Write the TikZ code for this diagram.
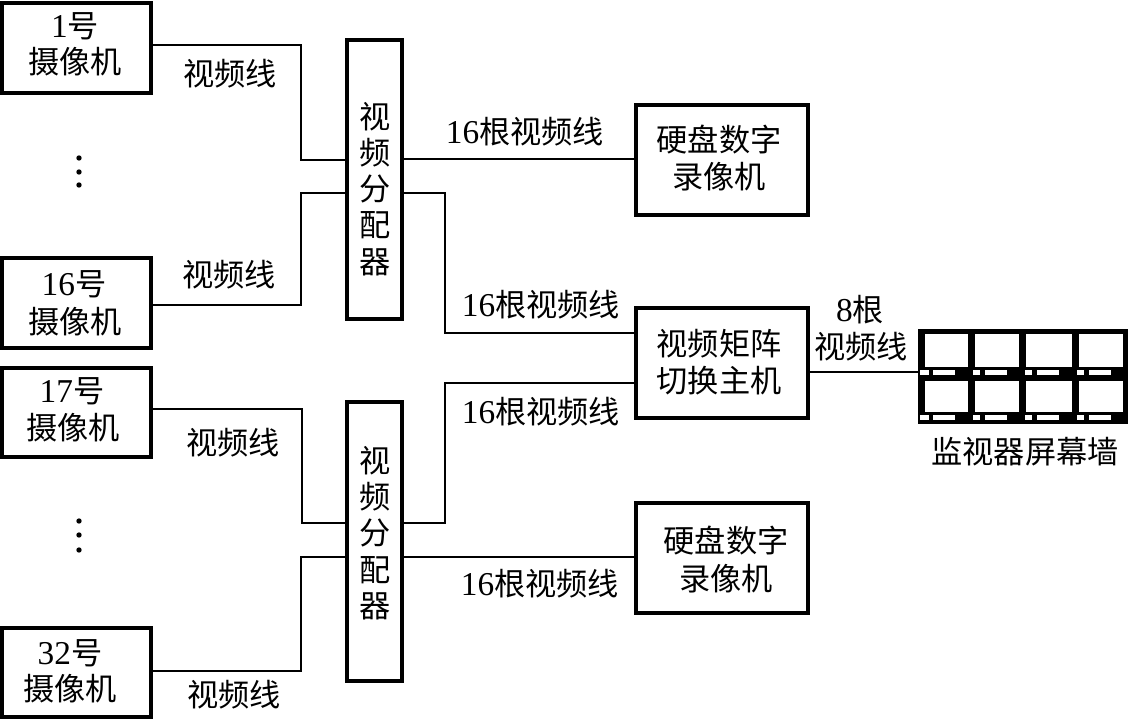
\documentclass[tikz,border=0pt]{standalone}
\usepackage{fontspec}
\setmainfont{Liberation Serif}
\newfontfamily\cjk{Noto Sans CJK SC}
\newcommand{\lat}[1]{{\rmfamily\fontsize{25}{25}\selectfont #1}}
\tikzset{
  x=0.75pt,y=-0.75pt,
  blockbox/.style={draw=black,line width=4*0.75pt,fill=white,inner sep=0pt,outer sep=0pt,anchor=north west},
  wire/.style={draw=black,line width=1.3*0.75pt},
  txt/.style={font=\cjk\fontsize{23.4}{23.4}\selectfont,inner sep=0pt,text=black},
  screen/.style={fill=white,draw=none},
  dotmark/.style={circle,fill=black,inner sep=0pt,minimum size=4pt}
}
\begin{document}
\begin{tikzpicture}
\useasboundingbox (0,0) rectangle (1128,720);
% boxes
\node[blockbox,minimum width=148.5*0.75pt,minimum height=89.5*0.75pt] (cam1) at (2,3.5) {};
\node[blockbox,minimum width=148.5*0.75pt,minimum height=89.5*0.75pt] (cam16) at (2,258.5) {};
\node[blockbox,minimum width=148.5*0.75pt,minimum height=89.5*0.75pt] (cam17) at (2,367.5) {};
\node[blockbox,minimum width=148.5*0.75pt,minimum height=89.5*0.75pt] (cam32) at (2,627.5) {};
\node[blockbox,minimum width=55*0.75pt,minimum height=279*0.75pt] (spa) at (347,40) {};
\node[blockbox,minimum width=55*0.75pt,minimum height=279*0.75pt] (spb) at (347,402) {};
\node[blockbox,minimum width=172*0.75pt,minimum height=110*0.75pt] (hdda) at (636,105) {};
\node[blockbox,minimum width=172*0.75pt,minimum height=110*0.75pt] (mat) at (636,308) {};
\node[blockbox,minimum width=172*0.75pt,minimum height=110*0.75pt] (hddb) at (636,503) {};
\node[fill=black,inner sep=0pt,outer sep=0pt,anchor=north west,minimum width=210*0.75pt,minimum height=95*0.75pt] (wall) at (918,329) {};
% connectors
\draw[wire] (cam1.east |- 0,45) -| (301,160) -- (spa.west |- 0,160);
\draw[wire] (cam16.east |- 0,305) -| (301,193) -- (spa.west |- 0,193);
\draw[wire] (cam17.east |- 0,409) -| (302,523) -- (spb.west |- 0,523);
\draw[wire] (cam32.east |- 0,671) -| (301,557) -- (spb.west |- 0,557);
\draw[wire] (spa.east |- 0,159) -- (hdda.west |- 0,159);
\draw[wire] (spa.east |- 0,193) -| (445,333) -- (mat.west |- 0,333);
\draw[wire] (spb.east |- 0,523) -| (445,383) -- (mat.west |- 0,383);
\draw[wire] (spb.east |- 0,557) -- (hddb.west |- 0,557);
\draw[wire] (mat.east |- 0,372) -- (wall.west |- 0,372);
% monitor wall
\foreach \a/\b in {925/968,975/1019,1026/1072,1079/1123}{
  \fill[screen] (\a,334) rectangle (\b,367);
  \fill[screen] (\a,381) rectangle (\b,412);
}
\foreach \a/\b/\c/\d in {920/929/933/955,973/980/985/1007,1025/1032/1037/1059,1077/1084/1089/1111}{
  \fill[screen] (\a,370) rectangle (\b,375);
  \fill[screen] (\c,370) rectangle (\d,375);
  \fill[screen] (\a,415) rectangle (\b,420);
  \fill[screen] (\c,415) rectangle (\d,420);
}
% dots
\foreach \n/\y in {a/158,b/172,c/185,d/521,e/535,f/550}{
  \node[dotmark] (dot\n) at (79,\y) {};
}
% box texts
\node[txt] (t1a) at (75,26) {\lat{1}号};
\node[txt] (t1b) at (75,62) {摄像机};
\node[txt] (t2a) at (74,284) {\lat{16}号};
\node[txt] (t2b) at (75,322) {摄像机};
\node[txt] (t3a) at (72,391) {\lat{17}号};
\node[txt] (t3b) at (73,428) {摄像机};
\node[txt] (t4a) at (70,653) {\lat{32}号};
\node[txt] (t4b) at (70,689) {摄像机};
\foreach \n/\c/\y in {a/视/117,b/频/153,c/分/189,d/配/225,e/器/262}{
  \node[txt] (sa\n) at (375,\y) {\c};
}
\foreach \n/\c/\y in {a/视/461,b/频/497,c/分/533,d/配/570,e/器/606}{
  \node[txt] (sb\n) at (375,\y) {\c};
}
\node[txt] (h1a) at (719,140) {硬盘数字};
\node[txt] (h1b) at (719,177) {录像机};
\node[txt] (m1a) at (719,344) {视频矩阵};
\node[txt] (m1b) at (719,381) {切换主机};
\node[txt] (h2a) at (726,541) {硬盘数字};
\node[txt] (h2b) at (726,579) {录像机};
% labels
\node[txt] (l1) at (230,74) {视频线};
\node[txt] (l2) at (229,275) {视频线};
\node[txt] (l3) at (233,443) {视频线};
\node[txt] (l4) at (234,695) {视频线};
\node[txt] (l5) at (525,132) {\lat{16}根视频线};
\node[txt] (l6) at (541,305) {\lat{16}根视频线};
\node[txt] (l7) at (541,412) {\lat{16}根视频线};
\node[txt] (l8) at (540,584) {\lat{16}根视频线};
\node[txt] (l9) at (860,310) {\lat{8}根};
\node[txt] (l10) at (861,347) {视频线};
\node[txt] (l11) at (1025,452) {监视器屏幕墙};
\end{tikzpicture}
\end{document}
